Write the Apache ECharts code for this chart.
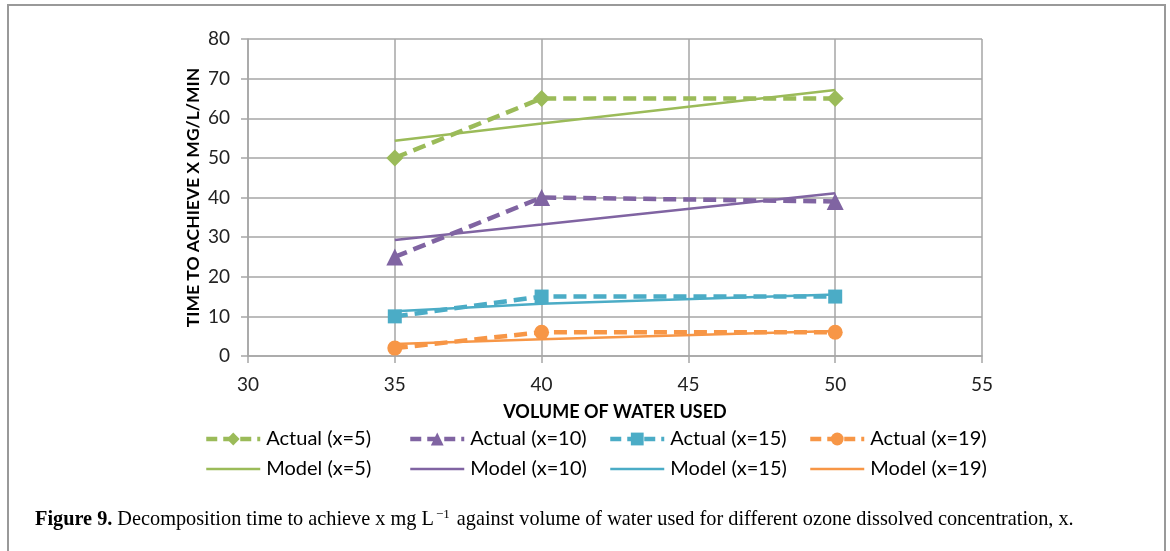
<!DOCTYPE html>
<html>
<head>
<meta charset="utf-8">
<script src="https://cdn.jsdelivr.net/npm/echarts@6/dist/echarts.min.js"></script>
<style>
  html, body { margin: 0; padding: 0; background: #fff; }
  #chart { width: 1170px; height: 551px; }
</style>
</head>
<body>
<div id="chart"></div>
<script>
// volume of water used
const volumes = [35, 40, 50]

// actual measured times
const actual5 = [50, 65, 65]
const actual10 = [25, 40, 39]
const actual15 = [10, 15, 15]
const actual19 = [2, 6, 6]

// model predictions
const model5 = [54.3, 58.7, 67.1]
const model10 = [29.3, 33.2, 41.1]
const model15 = [11.3, 13.2, 15.5]
const model19 = [3.0, 4.2, 6.3]

const colors = ['#9bbb59', '#8064a2', '#4bacc6', '#f79646']
const symbols = ['diamond', 'triangle', 'rect', 'circle']
const symbolSizes = [17, 17, 14, 15]
const tags = ['x=5', 'x=10', 'x=15', 'x=19']
const actuals = [actual5, actual10, actual15, actual19]
const models = [model5, model10, model15, model19]

const pair = (ys) => volumes.map((v, i) => [v, ys[i]])
const font = 'Lato, "Open Sans", sans-serif'
const serif = '"Liberation Serif", serif'

const series = []
const legends = []
const legendLeft = [204, 408, 608, 808]
tags.forEach((t, k) => {
    series.push({
        name: `Actual (${t})`,
        type: 'line',
        data: pair(actuals[k]),
        symbol: symbols[k],
        symbolSize: symbolSizes[k],
        itemStyle: { color: colors[k] },
        lineStyle: { color: colors[k], width: 4.5, type: [13, 7] },
        z: 3
    })
    series.push({
        name: `Model (${t})`,
        type: 'line',
        data: pair(models[k]),
        symbol: 'none',
        lineStyle: { color: colors[k], width: 2.5 },
        itemStyle: { color: colors[k] },
        z: 2
    })
    legends.push({
        orient: 'vertical',
        left: legendLeft[k],
        top: 429,
        padding: 0,
        itemWidth: 54,
        itemHeight: 16,
        itemGap: 10,
        data: [
            { name: `Actual (${t})`, lineStyle: { width: 4.5, type: [11, 6] } },
            { name: `Model (${t})`, lineStyle: { width: 2.5 }, itemStyle: { opacity: 0 } }
        ],
        textStyle: { fontFamily: font, fontSize: 20, color: '#000', padding: [0, 0, 0, 1] }
    })
})

const chart = echarts.init(document.getElementById('chart'))
chart.setOption({
    animation: false,
    backgroundColor: '#fff',
    grid: { left: 248, right: 188, top: 39, bottom: 195 },
    xAxis: {
        type: 'value',
        min: 30, max: 55, interval: 5,
        name: 'VOLUME OF WATER USED',
        nameLocation: 'middle',
        nameGap: 47,
        nameMoveOverlap: false,
        nameTextStyle: { fontFamily: font, fontSize: 18, fontWeight: 'bold', color: '#000' },
        axisLine: { lineStyle: { color: '#a6a6a6', width: 1.5 } },
        axisTick: { show: true, length: 7, lineStyle: { color: '#a6a6a6', width: 1.5 } },
        axisLabel: { fontFamily: font, fontSize: 19, color: '#222', margin: 19 },
        splitLine: { show: true, lineStyle: { color: '#a6a6a6', width: 1.5 } }
    },
    yAxis: {
        type: 'value',
        min: 0, max: 80, interval: 10,
        name: 'TIME TO ACHIEVE X MG/L/MIN',
        nameLocation: 'middle',
        nameGap: 46,
        nameMoveOverlap: false,
        nameTextStyle: { fontFamily: font, fontSize: 17.5, fontWeight: 'bold', color: '#000' },
        axisLine: { show: true, lineStyle: { color: '#a6a6a6', width: 1.5 } },
        axisTick: { show: true, length: 7, lineStyle: { color: '#a6a6a6', width: 1.5 } },
        axisLabel: { fontFamily: font, fontSize: 19, color: '#222', margin: 18 },
        splitLine: { show: true, lineStyle: { color: '#a6a6a6', width: 1.5 } }
    },
    legend: legends,
    title: {
        left: 30,
        top: 503,
        text: '{b|Figure 9.} {n|Decomposition time to achieve x mg L}{s|\u22121}{n| against volume of water used for different ozone dissolved concentration, x.}',
        textStyle: {
            fontWeight: 'normal',
            rich: {
                b: { fontFamily: serif, fontSize: 20.3, fontWeight: 'bold', color: '#000' },
                n: { fontFamily: serif, fontSize: 20.3, fontWeight: 'normal', color: '#000' },
                s: { fontFamily: serif, fontSize: 13, fontWeight: 'normal', color: '#000', verticalAlign: 'top', padding: [0, 2, 10, 2] }
            }
        }
    },
    graphic: [{
        type: 'rect',
        shape: { x: 8, y: 5, width: 1157, height: 560 },
        style: { fill: 'none', stroke: '#999', lineWidth: 2 },
        silent: true
    }],
    series
})
</script>
</body>
</html>
